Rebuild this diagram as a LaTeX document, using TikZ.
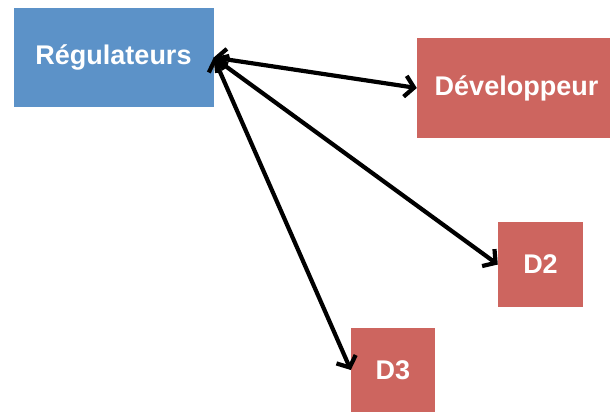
\documentclass[tikz,border=0pt]{standalone}
\usepackage{fontspec}
\setmainfont{Liberation Sans}
\usetikzlibrary{arrows.meta}
\definecolor{regblue}{RGB}{92,146,200}
\definecolor{devred}{RGB}{205,101,95}
\tikzset{
  box/.style={draw=none, inner sep=0pt, text=white,
    font=\fontsize{27}{30}\selectfont\bfseries},
  link/.style={line width=4.2pt, black,
    {Straight Barb[length=9pt,width=21pt]}-{Straight Barb[length=9pt,width=21pt]}}
}
\begin{document}
\begin{tikzpicture}[x=1pt,y=-1pt]
  \useasboundingbox (0,0) rectangle (610,412);
  \node[box, fill=regblue, minimum width=200pt, minimum height=98pt] (reg) at (113.5,57.5) {Régulateurs};
  \node[box, fill=devred, minimum width=199pt, minimum height=100pt] (dev) at (516.5,88) {Développeur};
  \node[box, fill=devred, minimum width=85pt, minimum height=85pt] (d2) at (540.5,264.5) {D2};
  \node[box, fill=devred, minimum width=84pt, minimum height=84pt] (d3) at (393,370) {D3};
  \draw[link] (reg.east) -- (dev.west);
  \draw[link] (reg.east) -- (d2.west);
  \draw[link] (reg.east) -- (d3.west);
\end{tikzpicture}
\end{document}
